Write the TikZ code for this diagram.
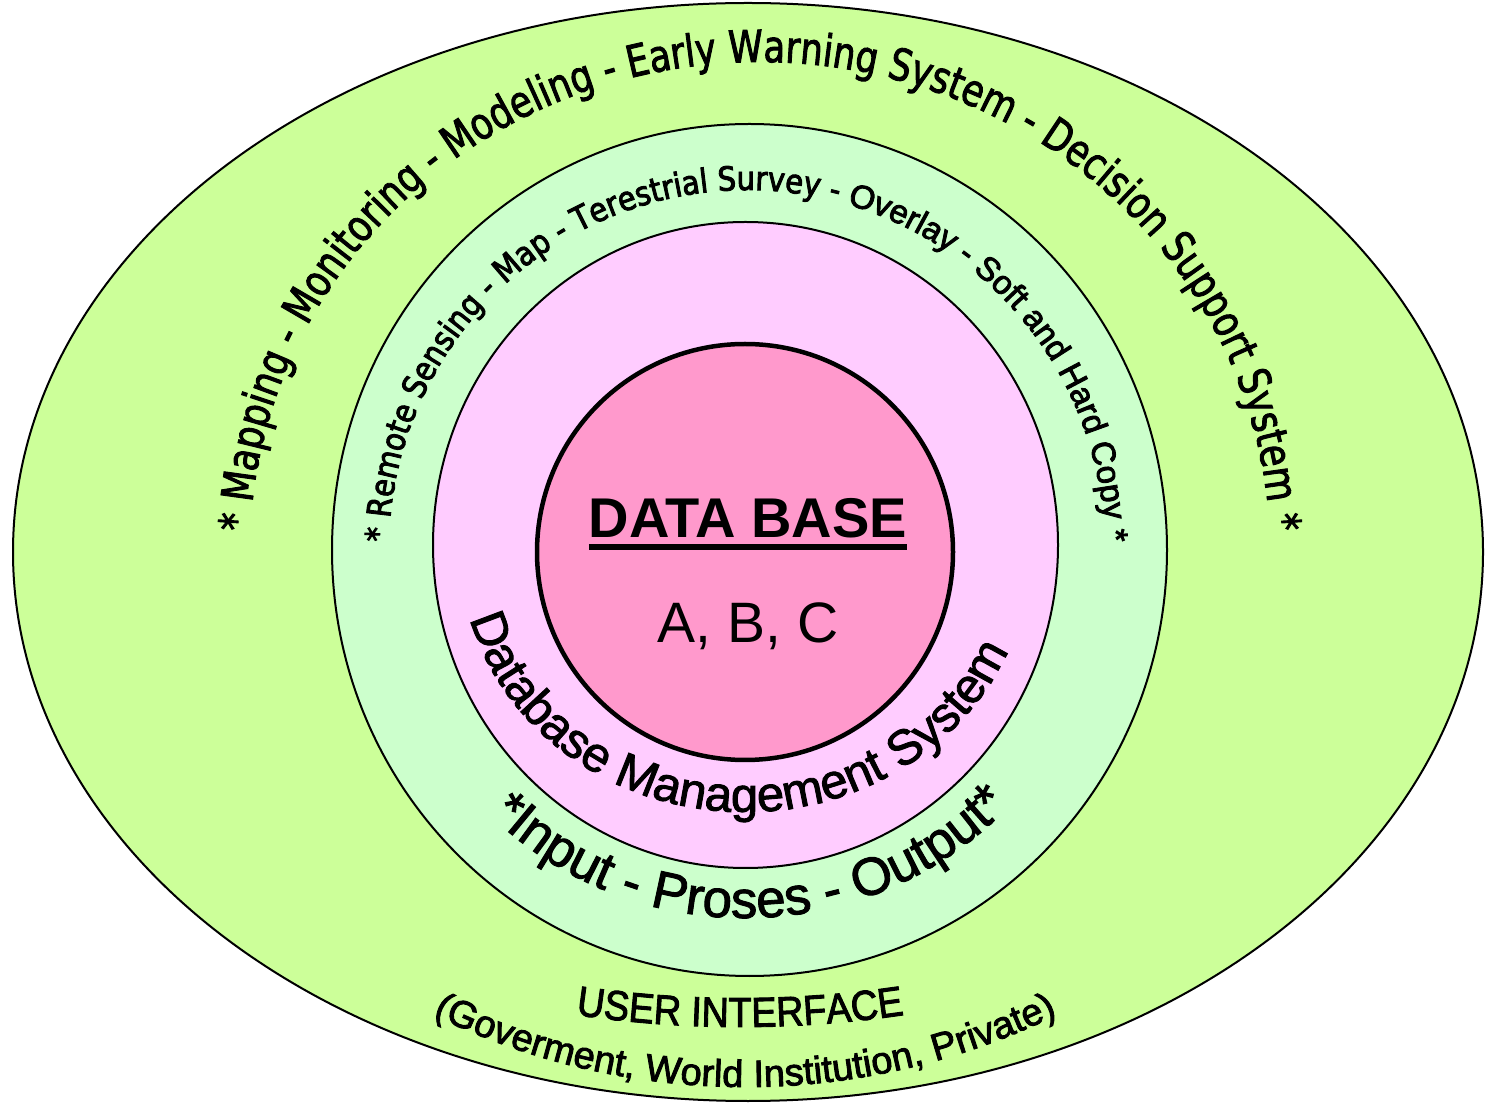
\documentclass[tikz,border=0pt]{standalone}
\usepackage{fontspec}
\setmainfont{Liberation Sans}
\newfontfamily\arialfont{Liberation Sans}
\newfontfamily\arialnarrow[FakeStretch=0.9]{Liberation Sans}
\newfontfamily\outerfont[FakeStretch=0.8]{DejaVu Sans}
\newfontfamily\greenfont[FakeStretch=0.88]{DejaVu Sans}
\usetikzlibrary{decorations.text}
\definecolor{limefill}{RGB}{204,255,153}
\definecolor{mintfill}{RGB}{204,255,204}
\definecolor{pinkfill}{RGB}{255,204,255}
\definecolor{rosefill}{RGB}{255,153,204}
\tikzset{
  ring/.style={draw=black, line width=2pt},
  core/.style={draw=black, line width=4.5pt, fill=rosefill},
  label/.style={inner sep=0pt, outer sep=0pt, anchor=base}
}
\begin{document}
\begin{tikzpicture}[x=1pt,y=1pt]
\useasboundingbox (0,0) rectangle (1489,1104);
\fill[white] (0,0) rectangle (1489,1104);
% rings
\draw[ring, fill=limefill] (748,552) ellipse [x radius=735, y radius=549];
\draw[ring, fill=mintfill] (749.5,554) ellipse [x radius=417.5, y radius=426];
\draw[ring, fill=pinkfill] (745.5,559) ellipse [x radius=312.5, y radius=323];
\draw[core] (745,552) circle [radius=208];
% centre texts
\node[label] (db) at (748,566) {\arialfont\bfseries\fontsize{56}{56}\selectfont DATA BASE};
\draw[line width=6.5pt] ([yshift=-9pt]db.base west) -- ([yshift=-9pt]db.base east);
\node[label] (abc) at (748,461) {\arialfont\fontsize{57}{57}\selectfont A, B, C};
\begin{scope}
\special{pdf:code 2 Tr 0.9 w 0 G}
% outer arc text
\path[decorate, decoration={text along path, text align=center,
  text={|\outerfont\fontsize{44}{44}\selectfont|* Mapping - Monitoring - Modeling - Early Warning System - Decision Support System *}}]
  (760,552) ++(190:510 and 490) arc[start angle=190, end angle=-10, x radius=510, y radius=490];
% green arc text
\path[decorate, decoration={text along path, text align=center,
  text={|\greenfont\fontsize{33}{33}\selectfont|* Remote Sensing - Map - Terestrial Survey - |\arialfont\fontsize{33}{33}\selectfont|Overlay - Soft and Hard Copy *}}]
  (747,554) ++(190:358 and 360) arc[start angle=190, end angle=-10, x radius=358, y radius=360];
% database management system
\path[decorate, decoration={text along path, text align=center,
  text={|\arialfont\fontsize{49}{49}\selectfont|Database Management System}}]
  (745,554) ++(176.3:285 and 262) arc[start angle=176.3, end angle=356.3, x radius=285, y radius=262];
% input proses output
\path[decorate, decoration={text along path, text align=center,
  text={|\arialfont\fontsize{53}{53}\selectfont|*Input - Proses - Output*}}]
  (745,554) ++(181:368) arc[start angle=181, end angle=361, radius=368];
% user interface
\path[decorate, decoration={text along path, text align=center,
  text={|\arialnarrow\fontsize{42}{42}\selectfont|USER INTERFACE}}]
  (740,1197) ++(250:1120) arc[start angle=250, end angle=290, radius=1120];
% users
\path[decorate, decoration={text along path, text align=center,
  text={|\arialfont\fontsize{38}{38}\selectfont|(Goverment, World Institution, Private)}}]
  (745,726) ++(225:709) arc[start angle=225, end angle=315, radius=709];
\end{scope}
\end{tikzpicture}
\end{document}
